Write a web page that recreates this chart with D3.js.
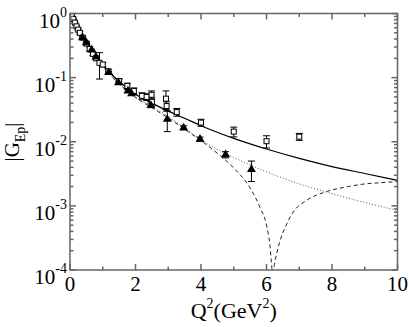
<!DOCTYPE html>
<html lang="en">
<head>
<meta charset="utf-8">
<title>GEp</title>
<script src="https://cdn.jsdelivr.net/npm/d3@7"></script>
<style>
  body { margin: 0; background: #fff; }
  text { font-family: "Liberation Serif", "DejaVu Serif", serif; fill: #000; }
</style>
</head>
<body>
<script>
// curves (Q^2 in GeV^2, |G_Ep|)
var solidQ = [0, 0.1, 0.25, 0.5, 0.75, 1, 1.25, 1.5, 2, 2.5, 3, 3.5, 4, 5, 6, 7, 8, 9, 10];
var solidG = [1, 0.8, 0.56, 0.35, 0.225, 0.158, 0.115, 0.087, 0.055, 0.04, 0.03, 0.0232, 0.0178, 0.0113, 0.0077, 0.0055, 0.0041, 0.0032, 0.0025];

var dotQ = [0, 0.1, 0.25, 0.5, 0.75, 1, 1.5, 2, 2.5, 3, 3.5, 4, 5, 6, 7, 8, 9, 10];
var dotG = [1, 0.8, 0.56, 0.35, 0.222, 0.153, 0.08, 0.05, 0.035, 0.025, 0.0163, 0.0107, 0.0057, 0.0034, 0.0022, 0.00155, 0.00113, 0.00085];

var dashQ = [0, 0.1, 0.25, 0.5, 0.75, 1, 1.5, 2, 2.5, 3, 3.5, 4, 4.5, 5, 5.5, 5.8, 6, 6.1, 6.19, 6.25, 6.4, 6.6, 6.8, 7.2, 7.8, 8.5, 9, 9.5, 10];
var dashG = [1, 0.8, 0.56, 0.35, 0.222, 0.153, 0.08, 0.049, 0.034, 0.0235, 0.0157, 0.0104, 0.0066, 0.0039, 0.0019, 0.00095, 0.0005, 0.00026, 0.00009, 0.00013, 0.00027, 0.0005, 0.00078, 0.0012, 0.00165, 0.002, 0.0022, 0.0023, 0.0024];

// open squares (Rosenbluth) with errors
var sqQ   = [0.02, 0.05, 0.1, 0.15, 0.2, 0.25, 0.3, 0.39, 0.5, 0.6, 0.7, 0.8, 0.9, 1.0, 1.17, 1.5, 1.75, 1.95, 2.2, 2.34, 2.49, 2.5, 2.93, 2.95, 3.26, 4.0, 5.0, 6.0, 7.0];
var sqG   = [0.97, 0.92, 0.82, 0.72, 0.63, 0.56, 0.5, 0.42, 0.34, 0.28, 0.235, 0.2, 0.17, 0.16, 0.125, 0.088, 0.074, 0.062, 0.052, 0.05, 0.054, 0.042, 0.047, 0.036, 0.029, 0.0199, 0.0144, 0.0102, 0.012];
var sqErr = [0.02, 0.02, 0.02, 0.02, 0.02, 0.02, 0.02, 0.02, 0.02, 0.02, 0.015, 0.012, 0.075, 0.012, 0.01, 0.008, 0.008, 0.007, 0.006, 0.006, 0.008, 0.006, 0.015, 0.006, 0.004, 0.0025, 0.0025, 0.0022, 0.0015];

// filled triangles (polarization transfer) with errors
var triQ   = [0.38, 0.5, 0.66, 0.79, 1.18, 1.48, 1.77, 1.88, 2.47, 2.97, 3.47, 3.97, 4.75, 5.54];
var triG   = [0.42, 0.35, 0.27, 0.21, 0.12, 0.083, 0.062, 0.056, 0.037, 0.0224, 0.0165, 0.011, 0.0063, 0.0037];
var triErr = [0.01, 0.01, 0.008, 0.006, 0.004, 0.003, 0.003, 0.003, 0.003, 0.008, 0.0012, 0.0008, 0.0007, 0.0013];

var xTicks = [0, 2, 4, 6, 8, 10];
var yExps = [0, -1, -2, -3, -4];

var w = 409, h = 327;
var margin = {left: 70, right: 11.5, top: 13.5, bottom: 57};

var svg = d3.select('body').append('svg').attr('width', w).attr('height', h);

var x = d3.scaleLinear().domain([0, 10]).range([margin.left, w - margin.right]);
var y = d3.scaleLog().domain([1e-4, 1]).range([h - margin.bottom, margin.top]);

var x0 = x.range()[0], x1 = x.range()[1], y0 = y.range()[0], y1 = y.range()[1];

svg.append('clipPath').attr('id', 'clip')
  .append('rect').attr('x', x0).attr('y', y1).attr('width', x1 - x0).attr('height', y0 - y1);

var plot = svg.append('g').attr('clip-path', 'url(#clip)');

function zipper(qs, gs) {
  return qs.map(function(q, i) { return [q, gs[i]]; });
}
var line = d3.line()
  .x(function(d) { return x(d[0]); })
  .y(function(d) { return y(d[1]); })
  .curve(d3.curveMonotoneX);

plot.append('path').datum(zipper(solidQ, solidG))
  .attr('d', line).attr('fill', 'none').attr('stroke', '#000').attr('stroke-width', 1.2);
plot.append('path').datum(zipper(dashQ, dashG))
  .attr('d', line).attr('fill', 'none').attr('stroke', '#222').attr('stroke-width', 1)
  .attr('stroke-dasharray', '4,3');
plot.append('path').datum(zipper(dotQ, dotG))
  .attr('d', line).attr('fill', 'none').attr('stroke', '#555').attr('stroke-width', 1)
  .attr('stroke-dasharray', '1,2');

// error bars
function errBars(qs, gs, es) {
  var g = plot.append('g').attr('stroke', '#000').attr('stroke-width', 1);
  qs.forEach(function(q, i) {
    var lo = Math.max(gs[i] - es[i], 1e-4), hi = gs[i] + es[i];
    var cx = x(q);
    g.append('line').attr('x1', cx).attr('x2', cx).attr('y1', y(lo)).attr('y2', y(hi));
    g.append('line').attr('x1', cx - 3.5).attr('x2', cx + 3.5).attr('y1', y(lo)).attr('y2', y(lo));
    g.append('line').attr('x1', cx - 3.5).attr('x2', cx + 3.5).attr('y1', y(hi)).attr('y2', y(hi));
  });
}
errBars(sqQ, sqG, sqErr);
errBars(triQ, triG, triErr);

plot.selectAll('rect.sq').data(zipper(sqQ, sqG)).enter().append('rect')
  .attr('class', 'sq')
  .attr('x', function(d) { return x(d[0]) - 2.5; })
  .attr('y', function(d) { return y(d[1]) - 2.5; })
  .attr('width', 5).attr('height', 5)
  .attr('fill', '#fff').attr('stroke', '#000').attr('stroke-width', 1);

var tri = d3.symbol().type(d3.symbolTriangle).size(34);
plot.selectAll('path.tri').data(zipper(triQ, triG)).enter().append('path')
  .attr('class', 'tri')
  .attr('transform', function(d) { return 'translate(' + x(d[0]) + ',' + y(d[1]) + ')'; })
  .attr('d', tri).attr('fill', '#000');

// frame and ticks (ticks point inward on all four sides)
var axisColor = '#666';
var frame = svg.append('g').attr('stroke', axisColor).attr('stroke-width', 1.5).attr('fill', 'none');
frame.append('rect').attr('x', x0).attr('y', y1).attr('width', x1 - x0).attr('height', y0 - y1);

var xMinor = d3.range(0, 11, 1);
xMinor.forEach(function(v) {
  var len = (v % 2 === 0) ? 6 : 3.5;
  frame.append('line').attr('x1', x(v)).attr('x2', x(v)).attr('y1', y0).attr('y2', y0 - len);
  frame.append('line').attr('x1', x(v)).attr('x2', x(v)).attr('y1', y1).attr('y2', y1 + len);
});
yExps.forEach(function(e) {
  var base = Math.pow(10, e);
  frame.append('line').attr('x1', x0).attr('x2', x0 + 6).attr('y1', y(base)).attr('y2', y(base));
  frame.append('line').attr('x1', x1).attr('x2', x1 - 6).attr('y1', y(base)).attr('y2', y(base));
  if (e < 0) {
    d3.range(2, 10).forEach(function(m) {
      var v = base * m;
      frame.append('line').attr('x1', x0).attr('x2', x0 + 3.5).attr('y1', y(v)).attr('y2', y(v));
      frame.append('line').attr('x1', x1).attr('x2', x1 - 3.5).attr('y1', y(v)).attr('y2', y(v));
    });
  }
});

// tick labels
svg.selectAll('text.xt').data(xTicks).enter().append('text')
  .attr('class', 'xt')
  .attr('x', function(d) { return x(d); })
  .attr('y', y0 + 21)
  .attr('text-anchor', 'middle')
  .attr('font-size', 21)
  .text(function(d) { return d; });

yExps.forEach(function(e) {
  var t = svg.append('text')
    .attr('x', x0 - 3)
    .attr('y', y(Math.pow(10, e)) + 14)
    .attr('text-anchor', 'end')
    .attr('font-size', 21);
  t.append('tspan').text('10');
  t.append('tspan').attr('dy', -11).attr('font-size', 14).text(e === 0 ? '0' : '-' + Math.abs(e));
});

// axis titles
var xt = svg.append('text')
  .attr('x', (x0 + x1) / 2)
  .attr('y', 318)
  .attr('text-anchor', 'middle')
  .attr('font-size', 22);
xt.append('tspan').text('Q');
xt.append('tspan').attr('dy', -10).attr('font-size', 14).text('2');
xt.append('tspan').attr('dy', 10).text('(GeV');
xt.append('tspan').attr('dy', -10).attr('font-size', 14).text('2');
xt.append('tspan').attr('dy', 10).text(')');

var yt = svg.append('text')
  .attr('transform', 'translate(19,142) rotate(-90)')
  .attr('text-anchor', 'middle')
  .attr('font-size', 21);
yt.append('tspan').text('|G');
yt.append('tspan').attr('dy', 6).attr('font-size', 14).text('Ep');
yt.append('tspan').attr('dy', -6).text('|');
</script>
</body>
</html>
